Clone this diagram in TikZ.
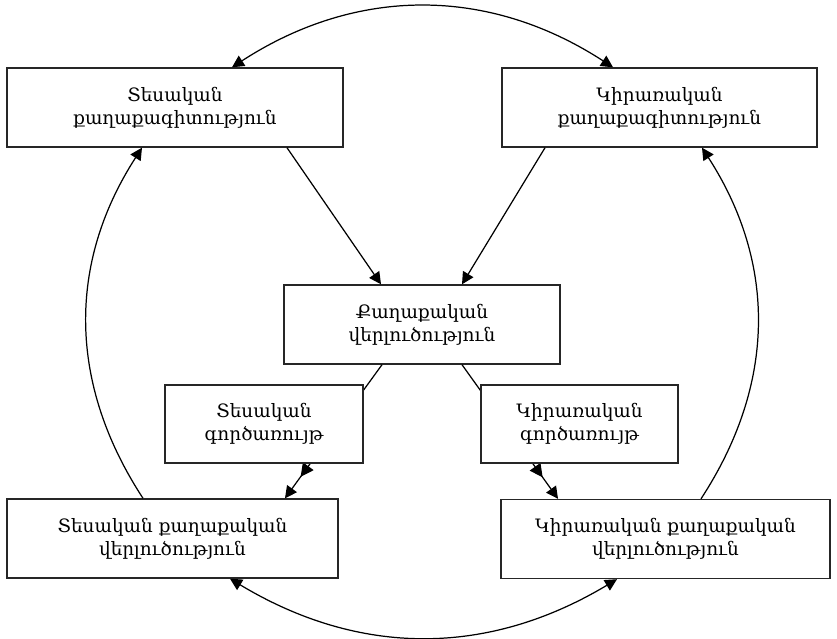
\documentclass[tikz,border=0pt]{standalone}
\usepackage{fontspec}
\setmainfont{DejaVu Serif}
\usetikzlibrary{arrows.meta,decorations.markings}

\begin{document}
\begin{tikzpicture}[x=0.02cm,y=-0.02cm,
		box/.style={draw=black!85,line width=0.8pt,fill=white,align=center,
			inner sep=0pt,font=\fontsize{10.5}{13}\selectfont},
		link/.style={line width=0.7pt,-{Triangle[length=2.4mm,width=2.4mm]}},
		both/.style={line width=0.7pt,{Triangle[length=2.4mm,width=2.4mm]}-{Triangle[length=2.4mm,width=2.4mm]}},
		midtip/.style={postaction={decorate},decoration={markings,
			mark=at position 0.84 with {\arrow{Triangle[length=2.6mm,width=2.6mm]}}}}]
		\useasboundingbox (0,0) rectangle (837,638);
		% 上面两个框
		\node[box,minimum width=6.72cm,minimum height=1.58cm] (tl) at (175,107.5) {Տեսական\\քաղաքագիտություն};
		\node[box,minimum width=6.3cm,minimum height=1.58cm] (tr) at (659.5,107.5) {Կիրառական\\քաղաքագիտություն};
		% 中间
		\node[box,minimum width=5.52cm,minimum height=1.58cm] (cen) at (422,324.5) {Քաղաքական\\վերլուծություն};
		% 下面两个框
		\node[box,minimum width=6.62cm,minimum height=1.58cm] (bl) at (172.5,538.5) {Տեսական քաղաքական\\վերլուծություն};
		\node[box,minimum width=6.58cm,minimum height=1.58cm] (br) at (665.5,539) {Կիրառական քաղաքական\\վերլուծություն};
		\draw[link] ([xshift=2.24cm]tl.south) -- ([xshift=-0.82cm]cen.north);
		\draw[link] ([xshift=-2.29cm]tr.south) -- ([xshift=0.8cm]cen.north);
		\draw[link,midtip] ([xshift=-0.8cm]cen.south) -- ([xshift=2.25cm]bl.north);
		\draw[link,midtip] ([xshift=0.8cm]cen.south) -- ([xshift=-2.15cm]br.north);
		% 外圈弧线
		\draw[both] ([xshift=1.14cm]tl.north) to[bend left=33] ([xshift=-0.93cm]tr.north);
		\draw[both] ([xshift=1.15cm]bl.south) to[bend right=31] ([xshift=-0.97cm]br.south);
		\draw[link] ([xshift=-0.59cm]bl.north) to[bend left=33] ([xshift=-0.66cm]tl.south);
		\draw[link] ([xshift=0.71cm]br.north) to[bend right=33] ([xshift=0.85cm]tr.south);
		% 小框盖在线上
		\node[box,minimum width=3.96cm,minimum height=1.56cm] (ls) at (264,424) {Տեսական\\գործառույթ};
		\node[box,minimum width=3.94cm,minimum height=1.56cm] (rs) at (579.5,424) {Կիրառական\\գործառույթ};
	\end{tikzpicture}
\end{document}
